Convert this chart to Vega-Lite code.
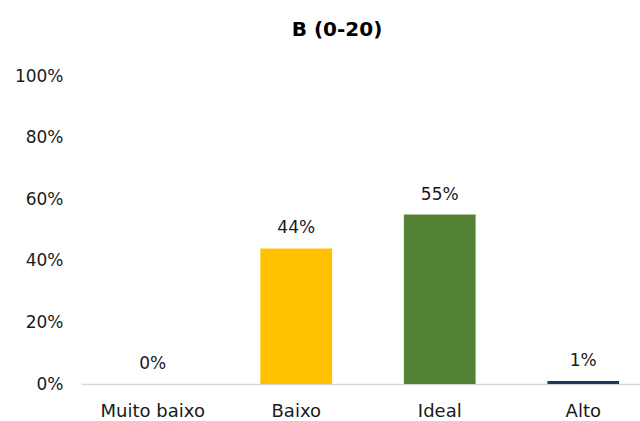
{
  "$schema": "https://vega.github.io/schema/vega-lite/v6.json",
  "autosize": {"type": "none"},
  "padding": {"left": 81, "top": 76, "right": 0, "bottom": 37},
  "width": 574,
  "height": 308,
  "background": "white",
  "config": {
    "view": {"stroke": null},
    "font": "DejaVu Sans"
  },
  "title": {
    "text": "B (0-20)",
    "fontSize": 20,
    "fontWeight": "bold",
    "font": "DejaVu Sans",
    "color": "#000000",
    "anchor": "middle",
    "dx": -31,
    "offset": 27
  },
  "data": {
    "values": [
      {"cat": "Muito baixo", "v": 0, "lab": "0%", "color": "#FFC000"},
      {"cat": "Baixo", "v": 0.44, "lab": "44%", "color": "#FFC000"},
      {"cat": "Ideal", "v": 0.55, "lab": "55%", "color": "#548235"},
      {"cat": "Alto", "v": 0.01, "lab": "1%", "color": "#203864"}
    ]
  },
  "encoding": {
    "x": {
      "field": "cat", "type": "nominal", "sort": null,
      "scale": {"paddingInner": 0.5, "paddingOuter": 0.25},
      "axis": {
        "title": null, "labelAngle": 0, "ticks": false,
        "domainColor": "#D9D9D9", "domainWidth": 1.5,
        "labelFontSize": 18, "labelColor": "#1a1a1a", "labelPadding": 18,
        "labelFont": "DejaVu Sans"
      }
    },
    "y": {
      "field": "v", "type": "quantitative",
      "scale": {"domain": [0, 1]},
      "axis": {
        "title": null, "format": ".0%", "values": [0, 0.2, 0.4, 0.6, 0.8, 1],
        "grid": false, "domain": false, "ticks": false,
        "labelFontSize": 17, "labelColor": "#1a1a1a", "labelPadding": 18,
        "labelFont": "DejaVu Sans"
      }
    }
  },
  "layer": [
    {
      "mark": {"type": "bar"},
      "encoding": {
        "color": {"field": "color", "type": "nominal", "scale": null}
      }
    },
    {
      "mark": {"type": "text", "baseline": "bottom", "dy": -11, "fontSize": 17, "color": "#1a1a1a", "font": "DejaVu Sans"},
      "encoding": {
        "text": {"field": "lab"}
      }
    }
  ]
}
